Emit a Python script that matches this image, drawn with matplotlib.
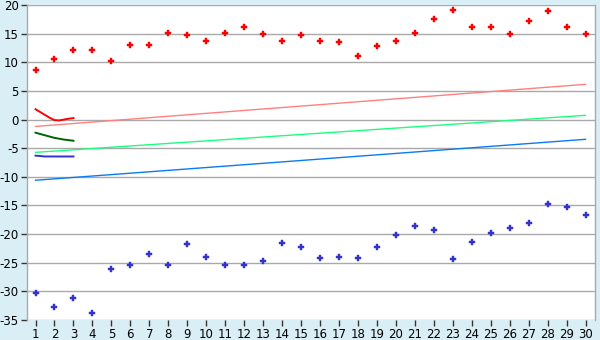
import matplotlib
matplotlib.use("Agg")
import matplotlib.pyplot as plt

plt.rcParams["axes.unicode_minus"] = False

# category axis 1..30
days = list(range(1, 31))

# scatter series
red_pts = [8.6, 10.5, 12.1, 12.1, 10.3, 13.0, 13.0, 15.05, 14.7, 13.65,
           15.05, 16.1, 14.9, 13.65, 14.7, 13.65, 13.5, 11.05, 12.8, 13.65,
           15.05, 17.5, 19.07, 16.1, 16.1, 14.9, 17.15, 18.9, 16.1, 14.9]
blue_pts = [-30.35, -32.8, -31.2, -33.8, -26.15, -25.45, -23.5, -25.45, -21.8, -24.06,
            -25.45, -25.45, -24.76, -21.6, -22.3, -24.2, -24.06, -24.2, -22.3, -20.2,
            -18.5, -19.35, -24.4, -21.45, -19.87, -19.0, -18.1, -14.8, -15.3, -16.7]

# long trend lines (endpoints at day 1 and day 30)
trend_x = [1, 30]
pink_trend = [-1.2, 6.15]
green_trend = [-5.73, 0.74]
blue_trend = [-10.6, -3.45]

# short thick curves over days 1-3
red_short_x = [1, 1.25, 1.5, 1.75, 2, 2.25, 2.5, 2.75, 3]
red_short = [1.8, 1.3, 0.8, 0.3, -0.1, -0.15, 0.0, 0.15, 0.25]
green_short_x = [1, 1.5, 2, 2.5, 3]
green_short = [-2.3, -2.75, -3.2, -3.5, -3.7]
navy_short_x = [1, 1.5, 3]
navy_short = [-6.3, -6.45, -6.45]

BG = "#DAEEF5"
GRID = "#A9A9A9"

fig = plt.figure(figsize=(6, 3.4), dpi=100, facecolor=BG)
ax = fig.add_axes([27 / 600, 1 - 320 / 340, 568 / 600, 315 / 340])
ax.set_facecolor("white")

for yv in range(-35, 21, 5):
    ax.axhline(yv, color=GRID, lw=1.0, zorder=1)

ax.plot(trend_x, pink_trend, color="#FF8080", lw=1.0, zorder=2)
ax.plot(trend_x, green_trend, color="#1AFF80", lw=1.0, zorder=2)
ax.plot(trend_x, blue_trend, color="#0A7CF0", lw=1.0, zorder=2)

ax.plot(red_short_x, red_short, color="#FF0000", lw=1.4, zorder=3)
ax.plot(green_short_x, green_short, color="#006400", lw=1.4, zorder=3)
ax.plot(navy_short_x, navy_short, color="#3333CC", lw=1.4, zorder=3)

ax.plot(days, red_pts, ls="none", marker="P", ms=4.5, color="#FF0000",
        mec="#FF0000", mew=0.3, zorder=4)
ax.plot(days, blue_pts, ls="none", marker="P", ms=4.5, color="#3333CC",
        mec="#3333CC", mew=0.3, zorder=4)

ax.set_xlim(0.55, 30.5)
ax.set_ylim(-35, 20)
ax.set_xticks(days)
ax.set_yticks(range(-35, 21, 5))
ax.tick_params(axis="both", labelsize=8.5, length=4, width=1, color="#333333",
               labelcolor="black", pad=2)

for side in ["top", "bottom"]:
    ax.spines[side].set_visible(False)
for side in ["left", "right"]:
    ax.spines[side].set_color(GRID)
    ax.spines[side].set_linewidth(1.0)

fig.savefig("out.png", dpi=100, facecolor=BG)
